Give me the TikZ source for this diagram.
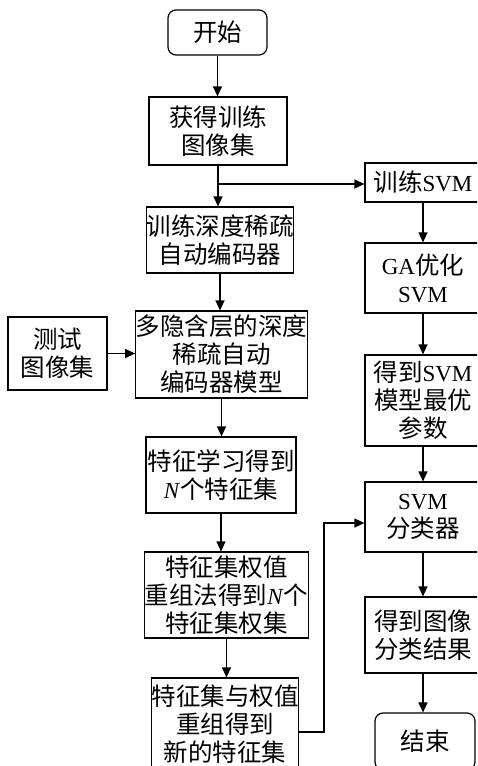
\documentclass[tikz,border=0pt]{standalone}
\usepackage{fontspec}
\setmainfont{Liberation Serif}
\newfontfamily\cjk{Noto Sans CJK SC}
\usetikzlibrary{arrows.meta}
\newcommand{\en}[1]{{\rmfamily\fontsize{23}{28}\selectfont #1}}
\tikzset{
  box/.style={draw, line width=1.2pt, inner sep=0pt, align=center,
    font=\cjk\fontsize{24.5}{28}\selectfont},
  term/.style={box, rounded corners=8pt},
  arr/.style={line width=1.2pt, -{Triangle[length=10pt,width=9pt]}},
  ln/.style={line width=1.2pt}
}
\begin{document}
\begin{tikzpicture}[x=1pt,y=-1pt]
\useasboundingbox (0,0) rectangle (477,766);
\fill[white] (0,0) rectangle (477,766);
\clip (0,0) rectangle (477,766);
% left column
\node[term, minimum width=99, minimum height=45] (start) at (217.5,32.5) {开始};
\node[box, minimum width=138, minimum height=68] (A1) at (218,131) {获得训练\\图像集};
\node[box, minimum width=146, minimum height=66] (A2) at (220,240) {训练深度稀疏\\自动编码器};
\node[box, minimum width=169, minimum height=87] (A3) at (221.5,354.5) {多隐含层的深度\\稀疏自动\\编码器模型};
\node[box, minimum width=99, minimum height=73] (T) at (57.5,353.5) {测试\\图像集};
\node[box, minimum width=150, minimum height=76] (A4) at (221,475) {特征学习得到\\\en{\textit{N}}个特征集};
\node[box, minimum width=163, minimum height=86] (A5) at (226.5,595) {特征集权值\\重组法得到\en{\textit{N}}个\\特征集权集};
\node[box, minimum width=146, minimum height=92] (A6) at (225,724) {特征集与权值\\重组得到\\新的特征集};
% right column
\node[box, minimum width=116, minimum height=39] (R1) at (423,182.5) {训练\en{SVM}};
\node[box, minimum width=116, minimum height=70] (R2) at (423,278) {\en{GA}优化\\\en{SVM}};
\node[box, minimum width=116, minimum height=91] (R3) at (423,400.5) {得到\en{SVM}\\模型最优\\参数};
\node[box, minimum width=116, minimum height=70] (R4) at (423,517) {\en{SVM}\\分类器};
\node[box, minimum width=116, minimum height=76] (R5) at (423,635) {得到图像\\分类结果};
\node[term, minimum width=100, minimum height=57] (R6) at (425,741.5) {结束};
% connectors
\draw[arr] (start.south) -- (start.south |- A1.north);
\draw[arr] (A1.south) -- (A1.south |- A2.north);
\draw[arr] (A2.south) -- (A2.south |- A3.north);
\draw[arr] (T.east) -- (T.east -| A3.west);
\draw[arr] (A3.south) -- (A3.south |- A4.north);
\draw[arr] (A4.south) -- (A4.south |- A5.north);
\draw[arr] (A5.south) -- (A5.south |- A6.north);
\coordinate (br) at (218,184);
\draw[arr] (br) -- (br -| R1.west);
\draw[arr] (R1.south) -- (R2.north);
\draw[arr] (R2.south) -- (R3.north);
\draw[arr] (R3.south) -- (R4.north);
\draw[arr] (R4.south) -- (R5.north);
\draw[arr] (R5.south) -- (R5.south |- R6.north);
\coordinate (e1) at (324,732);
\coordinate (e2) at (324,523);
\draw[arr] (e1 -| A6.east) -- (e1) -- (e2) -- (e2 -| R4.west);
\end{tikzpicture}
\end{document}
